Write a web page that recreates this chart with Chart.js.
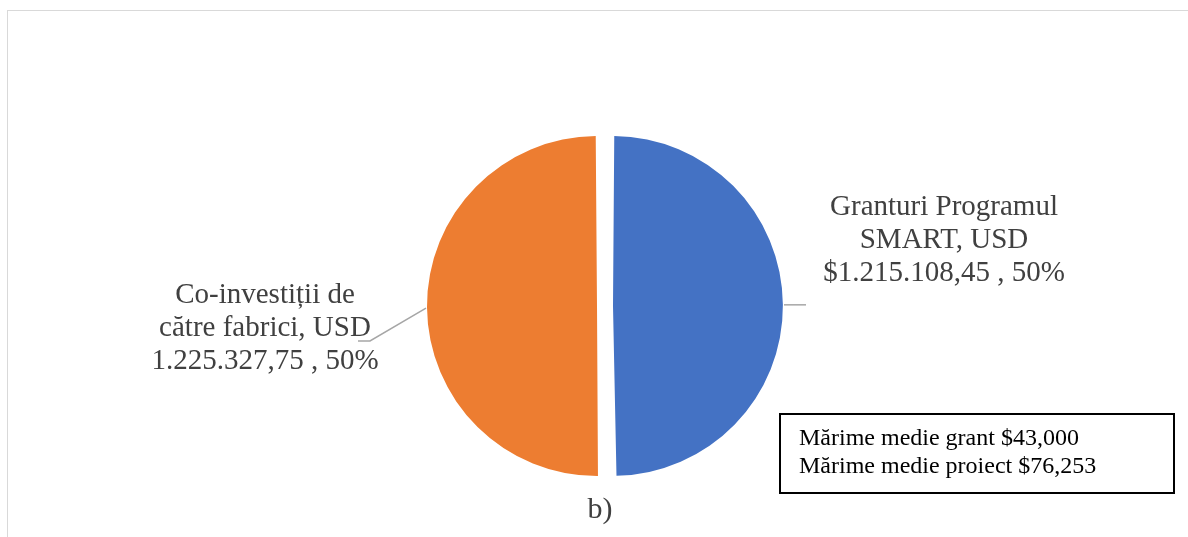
<!DOCTYPE html>
<html>
<head>
<meta charset="utf-8">
<script src="https://cdn.jsdelivr.net/npm/chart.js@4.4.1/dist/chart.umd.min.js"></script>
<style>
  html, body { margin: 0; padding: 0; background: #fff; }
  #wrap { position: relative; width: 1188px; height: 537px; overflow: hidden; }
  #frame { position: absolute; left: 7px; top: 10px; width: 1300px; height: 600px;
           border-left: 1px solid #d9d9d9; border-top: 1px solid #d9d9d9; }
  canvas { position: absolute; left: 0; top: 0; }
</style>
</head>
<body>
<div id="wrap">
  <div id="frame"></div>
  <canvas id="pieChart"></canvas>
</div>
<script>
// Slice data
const categories = ['Granturi Programul SMART, USD', 'Co-investiții de către fabrici, USD'];
const labelLines = [['Granturi Programul', 'SMART, USD'], ['Co-investiții de', 'către fabrici, USD']];
const valuePrefix = ['$', ''];
const values = [1215108.45, 1225327.75];
const sliceColors = ['#4472C4', '#ED7D31'];
const noteLines = ['Mărime medie grant $43,000', 'Mărime medie proiect $76,253'];
const caption = 'b)';

// arcs are pushed out by offset / 4 px when drawn (and their radius grows by the same)
const SLICE_OFFSET = 32;

// 1234567.89 -> 1.234.567,89
function formatRo(v) {
    const parts = v.toFixed(2).split('.');
    const intPart = parts[0].replace(/\B(?=(\d{3})+(?!\d))/g, '.');
    return intPart + ',' + parts[1];
}

const total = values.reduce((a, b) => a + b, 0);

// Data labels with leader lines, the note box and the caption
const pieLabels = {
    id: 'pieLabels',
    afterDraw(chart) {
        const ctx = chart.ctx;
        const arcs = chart.getDatasetMeta(0).data;
        const anchors = [
            { x: 944, y: 215, leader: p => [[p.x + 1, p.y], [806, p.y]] },
            { x: 265, y: 303, leader: p => [[p.x - 1, p.y + 1], [370, 341], [358, 341]] }
        ];
        ctx.save();
        arcs.forEach((arc, i) => {
            const mid = (arc.startAngle + arc.endAngle) / 2;
            const r = arc.outerRadius + SLICE_OFFSET / 2;
            const p = { x: arc.x + r * Math.cos(mid), y: arc.y + r * Math.sin(mid) };
            const pts = anchors[i].leader(p);
            ctx.strokeStyle = '#a6a6a6';
            ctx.lineWidth = 1.5;
            ctx.beginPath();
            ctx.moveTo(pts[0][0], pts[0][1]);
            for (let k = 1; k < pts.length; k++) ctx.lineTo(pts[k][0], pts[k][1]);
            ctx.stroke();

            const lines = labelLines[i].concat([valuePrefix[i] + formatRo(values[i]) + ' , ' + Math.round(values[i] / total * 100) + '%']);
            ctx.fillStyle = '#404040';
            ctx.font = '29px "Liberation Serif", "Times New Roman", serif';
            ctx.textAlign = 'center';
            ctx.textBaseline = 'alphabetic';
            lines.forEach((t, j) => ctx.fillText(t, anchors[i].x, anchors[i].y + j * 33));
        });

        // note box
        ctx.strokeStyle = '#000';
        ctx.lineWidth = 2;
        ctx.strokeRect(780, 414, 394, 79);
        ctx.fillStyle = '#000';
        ctx.font = '24px "Liberation Serif", "Times New Roman", serif';
        ctx.textAlign = 'left';
        noteLines.forEach((t, j) => ctx.fillText(t, 799, 445 + j * 28));

        // caption under the pie
        ctx.fillStyle = '#404040';
        ctx.font = '30px "Liberation Serif", "Times New Roman", serif';
        ctx.textAlign = 'center';
        ctx.fillText(caption, 600, 518);
        ctx.restore();
    }
};

const canvas = document.getElementById('pieChart');
canvas.width = 1188;
canvas.height = 537;

new Chart(canvas, {
    type: 'pie',
    data: {
        labels: categories,
        datasets: [{
            data: values,
            backgroundColor: sliceColors,
            borderWidth: 0,
            offset: SLICE_OFFSET
        }]
    },
    options: {
        responsive: false,
        animation: false,
        events: [],
        layout: { padding: { top: 128, bottom: 53, left: 300, right: 278 } },
        plugins: {
            legend: { display: false },
            title: { display: false },
            tooltip: { enabled: false }
        }
    },
    plugins: [pieLabels]
});
</script>
</body>
</html>
